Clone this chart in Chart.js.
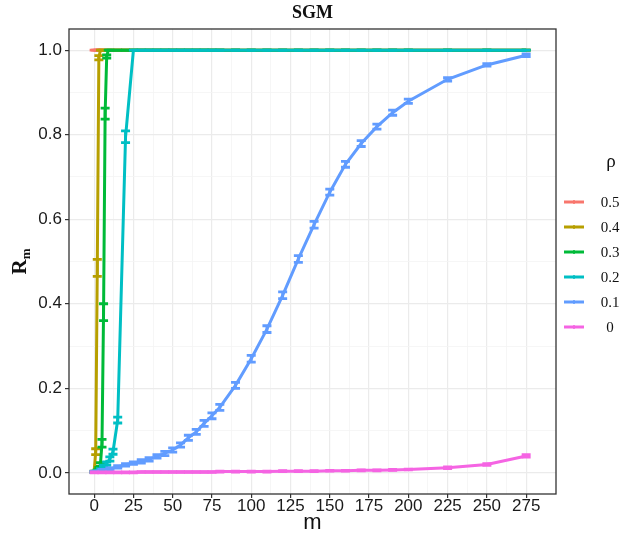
<!DOCTYPE html>
<html>
<head>
<meta charset="utf-8">
<script src="https://cdn.jsdelivr.net/npm/chart.js@4.4.0/dist/chart.umd.min.js"></script>
<style>
html, body { margin: 0; padding: 0; background: #fff; }
#wrap { width: 621px; height: 540px; position: relative; }
</style>
</head>
<body>
<div id="wrap"><canvas id="myChart"></canvas></div>
<script>
// legend / series
var rhoLabels = ['0.5', '0.4', '0.3', '0.2', '0.1', '0'];
var rhoColors = ['#F8766D', '#B79F00', '#00BA38', '#00BFC4', '#619CFF', '#F564E3'];

// tick labels
var xTicks = [0, 25, 50, 75, 100, 125, 150, 175, 200, 225, 250, 275];
var yTicks = [0, 0.2, 0.4, 0.6, 0.8, 1.0];

// rho = 0.5
var m05 = [0, 1, 2, 3, 4, 5, 10, 15, 20, 25, 30, 35, 40, 45, 50, 55, 60, 65, 70, 75, 80, 90, 100, 110, 120, 130, 140, 150, 160, 170, 180, 190, 200, 225, 250, 275];
var r05 = [1, 1, 1, 1, 1, 1, 1, 1, 1, 1, 1, 1, 1, 1, 1, 1, 1, 1, 1, 1, 1, 1, 1, 1, 1, 1, 1, 1, 1, 1, 1, 1, 1, 1, 1, 1];
var e05 = [0, 0, 0, 0, 0, 0, 0, 0, 0, 0, 0, 0, 0, 0, 0, 0, 0, 0, 0, 0, 0, 0, 0, 0, 0, 0, 0, 0, 0, 0, 0, 0, 0, 0, 0, 0];

// rho = 0.4
var m04 = [0, 1, 2, 3, 4, 5, 10, 15, 20, 25, 30, 35, 40, 45, 50, 55, 60, 65, 70, 75, 80, 90, 100, 110, 120, 130, 140, 150, 160, 170, 180, 190, 200, 225, 250, 275];
var r04 = [0.003, 0.05, 0.485, 0.982, 1, 1, 1, 1, 1, 1, 1, 1, 1, 1, 1, 1, 1, 1, 1, 1, 1, 1, 1, 1, 1, 1, 1, 1, 1, 1, 1, 1, 1, 1, 1, 1];
var e04 = [0.001, 0.007, 0.02, 0.005, 0, 0, 0, 0, 0, 0, 0, 0, 0, 0, 0, 0, 0, 0, 0, 0, 0, 0, 0, 0, 0, 0, 0, 0, 0, 0, 0, 0, 0, 0, 0, 0];

// rho = 0.3
var m03 = [0, 1, 2, 3, 4, 5, 6, 7, 8, 9, 10, 15, 20, 25, 30, 35, 40, 45, 50, 55, 60, 65, 70, 75, 80, 90, 100, 110, 120, 130, 140, 150, 160, 170, 180, 190, 200, 225, 250, 275];
var r03 = [0.002, 0.003, 0.005, 0.01, 0.02, 0.07, 0.38, 0.85, 0.985, 1, 1, 1, 1, 1, 1, 1, 1, 1, 1, 1, 1, 1, 1, 1, 1, 1, 1, 1, 1, 1, 1, 1, 1, 1, 1, 1, 1, 1, 1, 1];
var e03 = [0.001, 0.001, 0.002, 0.003, 0.004, 0.009, 0.02, 0.013, 0.004, 0, 0, 0, 0, 0, 0, 0, 0, 0, 0, 0, 0, 0, 0, 0, 0, 0, 0, 0, 0, 0, 0, 0, 0, 0, 0, 0, 0, 0, 0, 0];

// rho = 0.2
var m02 = [0, 2, 4, 6, 8, 10, 12, 15, 20, 25, 30, 35, 40, 45, 50, 55, 60, 65, 70, 75, 80, 90, 100, 110, 120, 130, 140, 150, 160, 170, 180, 190, 200, 225, 250, 275];
var r02 = [0.002, 0.004, 0.008, 0.015, 0.022, 0.033, 0.05, 0.125, 0.795, 1, 1, 1, 1, 1, 1, 1, 1, 1, 1, 1, 1, 1, 1, 1, 1, 1, 1, 1, 1, 1, 1, 1, 1, 1, 1, 1];
var e02 = [0.001, 0.001, 0.002, 0.003, 0.004, 0.005, 0.006, 0.007, 0.014, 0, 0, 0, 0, 0, 0, 0, 0, 0, 0, 0, 0, 0, 0, 0, 0, 0, 0, 0, 0, 0, 0, 0, 0, 0, 0, 0];

// rho = 0.1
var m01 = [0, 5, 10, 15, 20, 25, 30, 35, 40, 45, 50, 55, 60, 65, 70, 75, 80, 90, 100, 110, 120, 130, 140, 150, 160, 170, 180, 190, 200, 225, 250, 275];
var r01 = [0.003, 0.006, 0.01, 0.014, 0.019, 0.023, 0.027, 0.032, 0.039, 0.046, 0.054, 0.066, 0.083, 0.097, 0.117, 0.135, 0.155, 0.207, 0.27, 0.34, 0.42, 0.506, 0.587, 0.664, 0.73, 0.779, 0.819, 0.852, 0.879, 0.931, 0.965, 0.988];
var e01 = [0.001, 0.002, 0.002, 0.003, 0.003, 0.003, 0.004, 0.004, 0.004, 0.005, 0.005, 0.005, 0.006, 0.006, 0.007, 0.007, 0.007, 0.007, 0.008, 0.008, 0.008, 0.008, 0.008, 0.007, 0.007, 0.007, 0.006, 0.006, 0.005, 0.004, 0.003, 0.003];

// rho = 0
var m00 = [0, 5, 10, 15, 20, 25, 30, 35, 40, 45, 50, 55, 60, 65, 70, 75, 80, 90, 100, 110, 120, 130, 140, 150, 160, 170, 180, 190, 200, 225, 250, 275];
var r00 = [0.001, 0.001, 0.001, 0.001, 0.001, 0.001, 0.002, 0.002, 0.002, 0.002, 0.002, 0.002, 0.002, 0.002, 0.002, 0.002, 0.003, 0.003, 0.003, 0.003, 0.004, 0.004, 0.004, 0.005, 0.005, 0.006, 0.006, 0.007, 0.008, 0.012, 0.02, 0.04];
var e00 = [0.001, 0.001, 0.001, 0.001, 0.001, 0.001, 0.001, 0.001, 0.001, 0.001, 0.001, 0.001, 0.001, 0.001, 0.001, 0.001, 0.001, 0.001, 0.001, 0.001, 0.001, 0.001, 0.001, 0.001, 0.001, 0.001, 0.001, 0.001, 0.001, 0.002, 0.002, 0.003];

var allM = [m05, m04, m03, m02, m01, m00];
var allR = [r05, r04, r03, r02, r01, r00];
var allE = [e05, e04, e03, e02, e01, e00];

var datasets = [];
for (var i = 0; i < rhoLabels.length; i++) {
    var pts = [];
    for (var j = 0; j < allM[i].length; j++) {
        pts.push({ x: allM[i][j], y: allR[i][j], err: allE[i][j] });
    }
    datasets.push({
        label: rhoLabels[i],
        data: pts,
        borderColor: rhoColors[i],
        backgroundColor: rhoColors[i],
        borderWidth: 3,
        pointRadius: 0,
        tension: 0,
        order: rhoLabels.length - i
    });
}

function isMajor(v, list) {
    for (var k = 0; k < list.length; k++) {
        if (Math.abs(list[k] - v) < 1e-9) return true;
    }
    return false;
}

// error bars drawn right after each line
var errorBars = {
    id: 'errorBars',
    afterDatasetDraw: function(chart, args) {
        var ctx = chart.ctx;
        var xs = chart.scales.x, ys = chart.scales.y;
        var ds = chart.data.datasets[args.index];
        var area = chart.chartArea;
        ctx.save();
        ctx.beginPath();
        ctx.rect(area.left, area.top, area.right - area.left, area.bottom - area.top);
        ctx.clip();
        ctx.strokeStyle = ds.borderColor;
        ctx.lineWidth = 2.8;
        for (var j = 0; j < ds.data.length; j++) {
            var p = ds.data[j];
            var px = xs.getPixelForValue(p.x);
            var lo = ys.getPixelForValue(p.y - p.err);
            var hi = ys.getPixelForValue(p.y + p.err);
            ctx.beginPath();
            ctx.moveTo(px, lo); ctx.lineTo(px, hi);
            ctx.moveTo(px - 4.5, lo); ctx.lineTo(px + 4.5, lo);
            ctx.moveTo(px - 4.5, hi); ctx.lineTo(px + 4.5, hi);
            ctx.stroke();
        }
        ctx.restore();
    }
};

// frame, titles and legend
var decorations = {
    id: 'decorations',
    afterDraw: function(chart) {
        var ctx = chart.ctx;
        var a = chart.chartArea;
        ctx.save();
        ctx.strokeStyle = '#333';
        ctx.lineWidth = 1.3;
        ctx.strokeRect(a.left, a.top, a.right - a.left, a.bottom - a.top);

        ctx.fillStyle = '#111';
        ctx.textAlign = 'center';
        ctx.textBaseline = 'middle';
        ctx.font = 'bold 18px "Liberation Serif"';
        ctx.fillText('SGM', (a.left + a.right) / 2, 13);

        ctx.font = '22px "Liberation Sans"';
        ctx.fillText('m', (a.left + a.right) / 2, 523);

        // y title R with subscript m
        ctx.save();
        ctx.translate(19, (a.top + a.bottom) / 2);
        ctx.rotate(-Math.PI / 2);
        ctx.textAlign = 'left';
        ctx.textBaseline = 'alphabetic';
        ctx.font = 'bold 21px "Liberation Serif"';
        var rw = ctx.measureText('R').width;
        ctx.font = 'bold 13px "Liberation Serif"';
        var mw = ctx.measureText('m').width;
        var x0 = -(rw + mw) / 2;
        ctx.font = 'bold 21px "Liberation Serif"';
        ctx.fillText('R', x0, 7);
        ctx.font = 'bold 13px "Liberation Serif"';
        ctx.fillText('m', x0 + rw, 11);
        ctx.restore();

        // legend
        ctx.textAlign = 'center';
        ctx.font = '19px "Liberation Serif"';
        ctx.fillText('\u03C1', 611, 162);
        ctx.font = '15px "Liberation Serif"';
        var ly = [202, 227, 252, 277, 302, 327];
        for (var i = 0; i < rhoLabels.length; i++) {
            ctx.strokeStyle = rhoColors[i];
            ctx.lineWidth = 3;
            ctx.beginPath();
            ctx.moveTo(564, ly[i]); ctx.lineTo(584, ly[i]);
            ctx.stroke();
            ctx.lineWidth = 1.5;
            ctx.beginPath();
            ctx.moveTo(574, ly[i] - 2); ctx.lineTo(574, ly[i] + 2);
            ctx.stroke();
            ctx.fillStyle = '#111';
            ctx.fillText(rhoLabels[i], 610, ly[i] + 1);
        }
        ctx.restore();
    }
};

var ctx = document.getElementById('myChart');
var chart = new Chart(ctx, {
    type: 'line',
    data: { datasets: datasets },
    options: {
        responsive: true,
        maintainAspectRatio: false,
        animation: false,
        layout: { padding: { top: 29, right: 65, left: 0, bottom: 0 } },
        plugins: { legend: { display: false }, tooltip: { enabled: false } },
        scales: {
            x: {
                type: 'linear',
                min: -16,
                max: 294,
                afterFit: function(s) { s.height = 46; },
                afterBuildTicks: function(s) {
                    var t = [];
                    for (var k = 0; k < xTicks.length; k++) {
                        t.push({ value: xTicks[k] });
                        if (k < xTicks.length - 1) t.push({ value: (xTicks[k] + xTicks[k + 1]) / 2 });
                    }
                    s.ticks = t;
                },
                ticks: {
                    autoSkip: false,
                    maxRotation: 0,
                    padding: -2,
                    color: '#1a1a1a',
                    font: { family: 'Liberation Sans', size: 17 },
                    callback: function(v) { return isMajor(v, xTicks) ? String(v) : ''; }
                },
                grid: {
                    color: function(c) { return isMajor(c.tick.value, xTicks) ? '#EBEBEB' : '#F4F4F4'; },
                    lineWidth: function(c) { return isMajor(c.tick.value, xTicks) ? 1.2 : 0.8; },
                    tickColor: function(c) { return isMajor(c.tick.value, xTicks) ? '#333' : 'rgba(0,0,0,0)'; },
                    tickLength: 4,
                    tickWidth: 1.2
                },
                border: { display: false }
            },
            y: {
                type: 'linear',
                min: -0.05,
                max: 1.05,
                afterFit: function(s) { s.width = 69; },
                afterBuildTicks: function(s) {
                    var t = [];
                    for (var k = 0; k < yTicks.length; k++) {
                        t.push({ value: yTicks[k] });
                        if (k < yTicks.length - 1) t.push({ value: (yTicks[k] + yTicks[k + 1]) / 2 });
                    }
                    s.ticks = t;
                },
                ticks: {
                    autoSkip: false,
                    padding: 3,
                    color: '#1a1a1a',
                    font: { family: 'Liberation Sans', size: 17 },
                    callback: function(v) { return isMajor(v, yTicks) ? v.toFixed(1) : ''; }
                },
                grid: {
                    color: function(c) { return isMajor(c.tick.value, yTicks) ? '#EBEBEB' : '#F4F4F4'; },
                    lineWidth: function(c) { return isMajor(c.tick.value, yTicks) ? 1.2 : 0.8; },
                    tickColor: function(c) { return isMajor(c.tick.value, yTicks) ? '#333' : 'rgba(0,0,0,0)'; },
                    tickLength: 4,
                    tickWidth: 1.2
                },
                border: { display: false }
            }
        }
    },
    plugins: [errorBars, decorations]
});
</script>
</body>
</html>
